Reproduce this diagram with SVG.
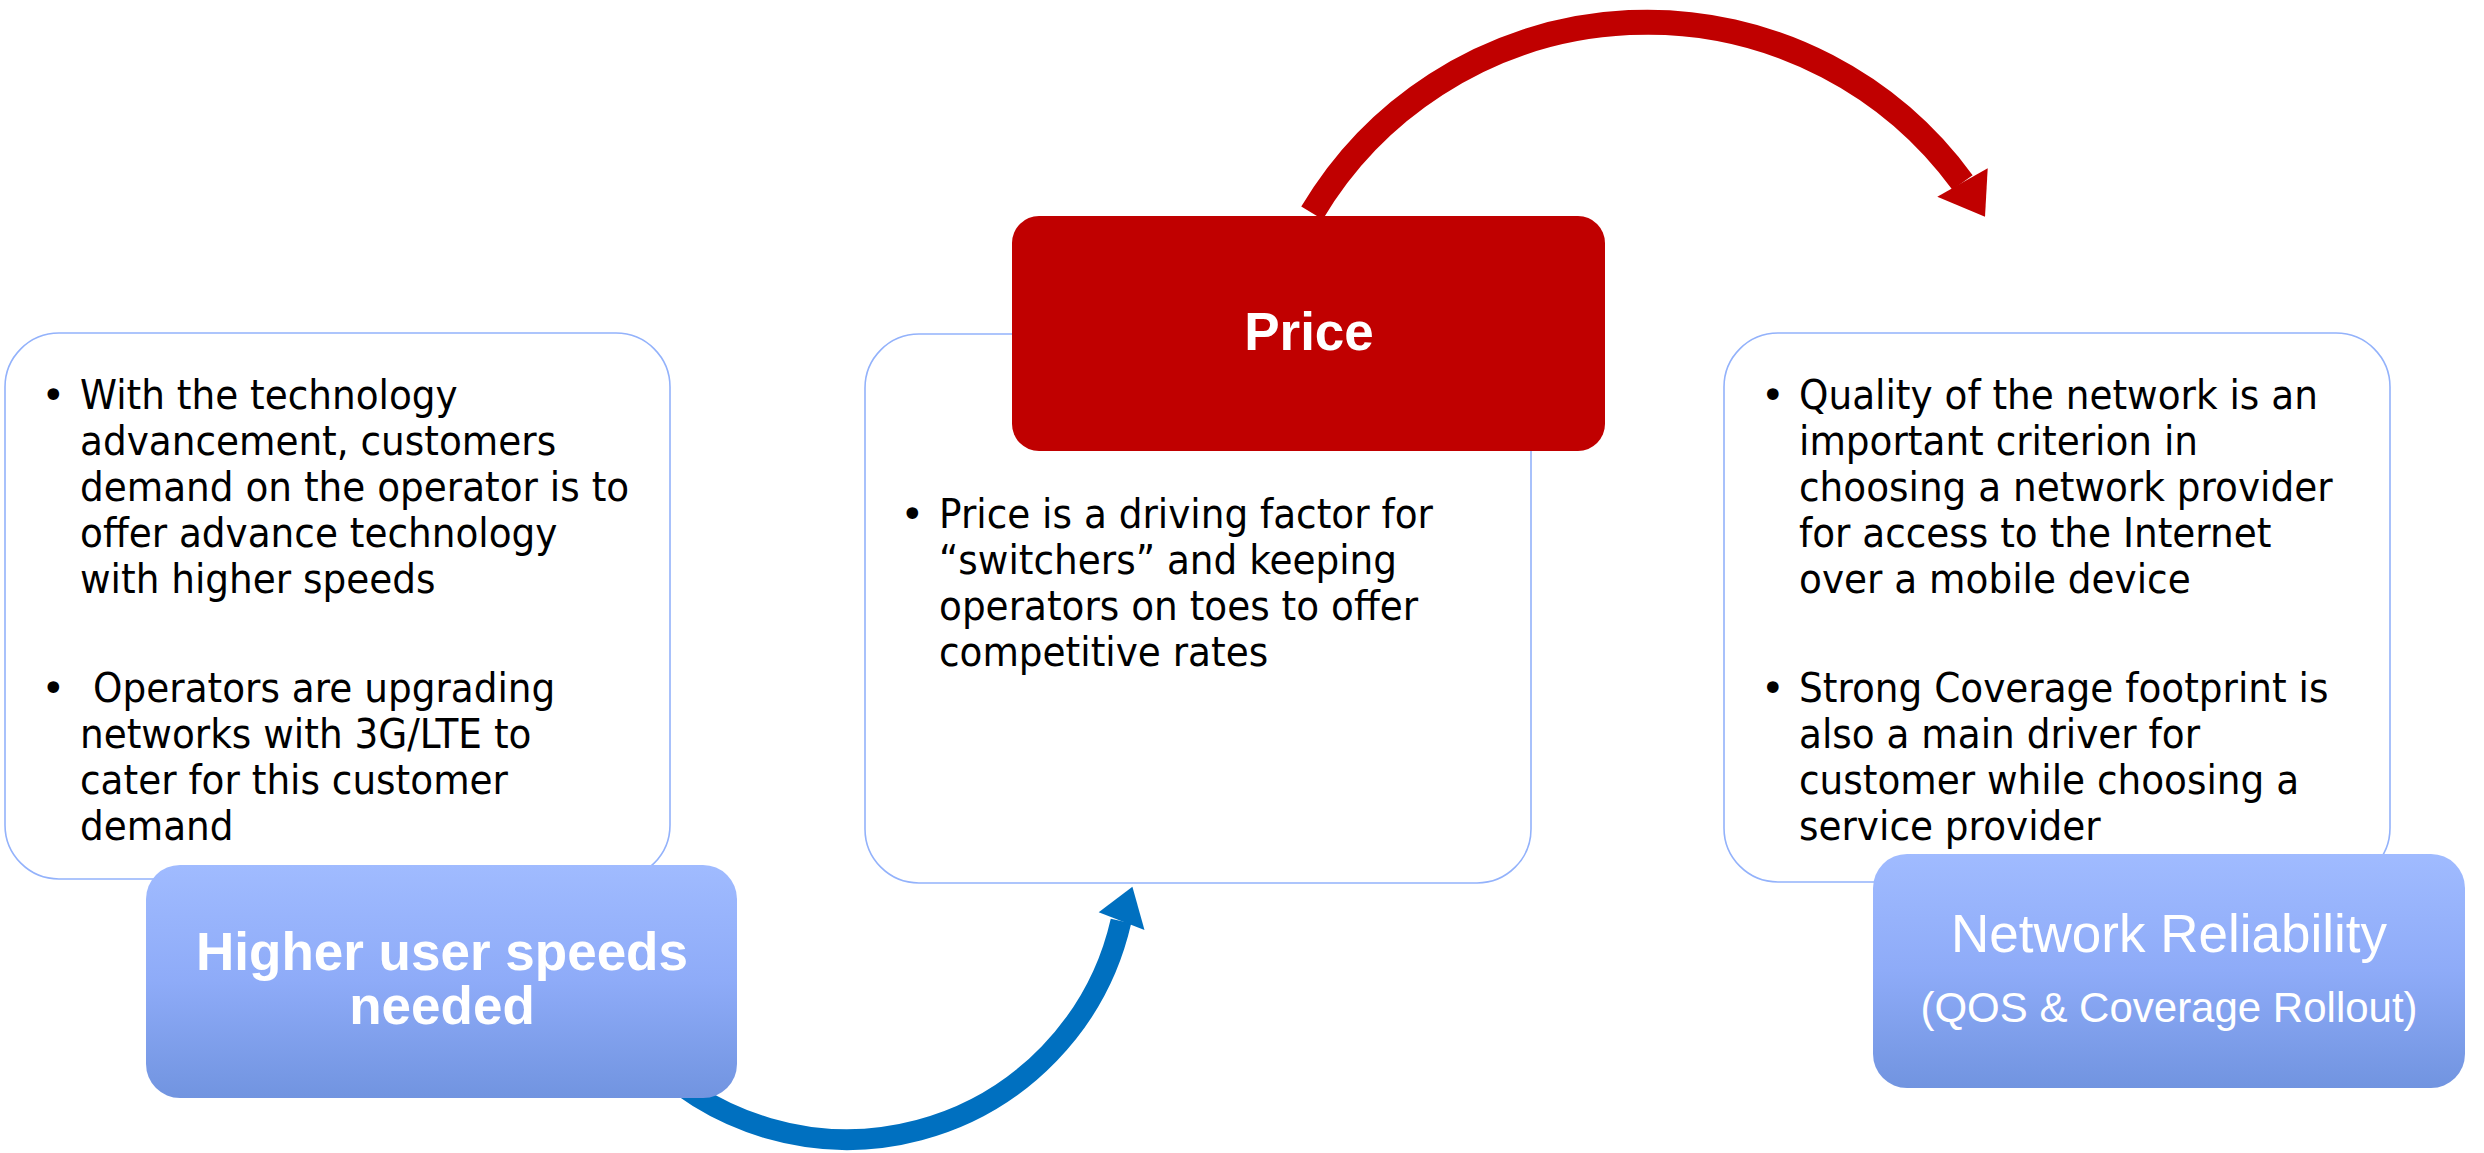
<svg xmlns="http://www.w3.org/2000/svg" width="2484" height="1153" viewBox="0 0 2484 1153">
  <style>
    .card { fill: #ffffff; stroke: #93b2fb; stroke-width: 1.6; }
    .tag { fill: url(#tagFill); stroke: none; }
    .price { fill: #c00000; stroke: none; }
    .body { font-family: "DejaVu Sans", Verdana, sans-serif; font-size: 40px; fill: #000000; }
    .bullet { font-family: "DejaVu Sans", Verdana, sans-serif; font-size: 40px; fill: #000000; }
    .title { font-family: "Liberation Sans", Arial, sans-serif; fill: #ffffff; text-anchor: middle; }
    .bold { font-weight: bold; font-size: 53px; }
    .plain { font-size: 53px; }
    .sub { font-size: 42px; }
    .redArc { fill: none; stroke: #c00000; stroke-width: 25; stroke-linecap: butt; }
    .blueArc { fill: none; stroke: #0070c0; stroke-width: 21; stroke-linecap: butt; }
    .redHead { fill: #c00000; }
    .blueHead { fill: #0070c0; }
  </style>
  <defs>
    <linearGradient id="tagFill" x1="0" y1="0" x2="0" y2="1">
      <stop offset="0" stop-color="#a0bbff"/>
      <stop offset="0.5" stop-color="#8eabf8"/>
      <stop offset="1" stop-color="#7194e0"/>
    </linearGradient>
  </defs>

  <rect width="2484" height="1153" fill="#ffffff"/>

  <!-- connectors: curved block arrows between the three drivers -->
  <g id="connectors">
    <g id="arrow-speed-to-price">
      <path class="blueArc" d="M 640 1048.5 A 281 281 0 0 0 1121 921"/>
      <polygon class="blueHead" points="1098.7,912.3 1132.4,886.7 1144.5,930"/>
    </g>
    <g id="arrow-price-to-reliability">
      <path class="redArc" d="M 1312 213 A 390 390 0 0 1 1962.5 182.5"/>
      <polygon class="redHead" points="1987.7,168.3 1985,216.7 1937.3,196.7"/>
    </g>
  </g>

  <!-- left driver: user speeds -->
  <g id="node-speeds">
    <rect class="card" x="5" y="333" width="665" height="546" rx="54" ry="54"/>
    <text class="bullet" x="41.5" y="409">•</text>
    <text class="bullet" x="41.5" y="702">•</text>
    <g transform="translate(80 0) scale(0.935 1)">
      <text class="body" x="0" y="409">With the technology</text>
      <text class="body" x="0" y="455">advancement, customers</text>
      <text class="body" x="0" y="501">demand on the operator is to</text>
      <text class="body" x="0" y="547">offer advance technology</text>
      <text class="body" x="0" y="593">with higher speeds</text>
      <text class="body" x="14" y="702">Operators are upgrading</text>
      <text class="body" x="0" y="748">networks with 3G/LTE to</text>
      <text class="body" x="0" y="794">cater for this customer</text>
      <text class="body" x="0" y="840">demand</text>
    </g>
    <rect class="tag" x="146" y="865" width="591" height="233" rx="34" ry="34"/>
    <text class="title bold" x="442" y="970">Higher user speeds</text>
    <text class="title bold" x="442" y="1024">needed</text>
  </g>

  <!-- middle driver: price -->
  <g id="node-price">
    <rect class="card" x="865" y="334" width="666" height="549" rx="54" ry="54"/>
    <text class="bullet" x="900.5" y="528">•</text>
    <g transform="translate(939 0) scale(0.935 1)">
      <text class="body" x="0" y="528">Price is a driving factor for</text>
      <text class="body" x="0" y="574">“switchers” and keeping</text>
      <text class="body" x="0" y="620">operators on toes to offer</text>
      <text class="body" x="0" y="666">competitive rates</text>
    </g>
    <rect class="price" x="1012" y="216" width="593" height="235" rx="27" ry="27"/>
    <text class="title bold" x="1309" y="350">Price</text>
  </g>

  <!-- right driver: network reliability -->
  <g id="node-reliability">
    <rect class="card" x="1724" y="333" width="666" height="549" rx="54" ry="54"/>
    <text class="bullet" x="1761" y="409">•</text>
    <text class="bullet" x="1761" y="702">•</text>
    <g transform="translate(1799 0) scale(0.935 1)">
      <text class="body" x="0" y="409">Quality of the network is an</text>
      <text class="body" x="0" y="455">important criterion in</text>
      <text class="body" x="0" y="501">choosing a network provider</text>
      <text class="body" x="0" y="547">for access to the Internet</text>
      <text class="body" x="0" y="593">over a mobile device</text>
      <text class="body" x="0" y="702">Strong Coverage footprint is</text>
      <text class="body" x="0" y="748">also a main driver for</text>
      <text class="body" x="0" y="794">customer while choosing a</text>
      <text class="body" x="0" y="840">service provider</text>
    </g>
    <rect class="tag" x="1873" y="854" width="592" height="234" rx="34" ry="34"/>
    <text class="title plain" x="2169" y="952">Network Reliability</text>
    <text class="title sub" x="2169" y="1022">(QOS &amp; Coverage Rollout)</text>
  </g>
</svg>
